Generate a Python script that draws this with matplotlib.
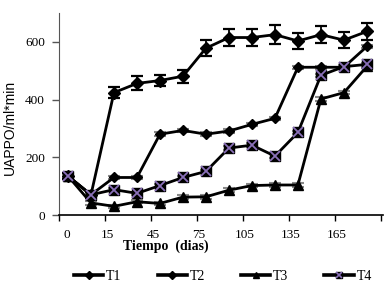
import numpy as np
import matplotlib
matplotlib.use("Agg")
import matplotlib.pyplot as plt
from matplotlib.legend_handler import HandlerTuple

# sampling points (index along category axis)
puntos = np.arange(14)
tick_labels = ["0", "15", "45", "75", "105", "135", "165"]

T1 = [135, 70, 424, 456, 466, 481, 578, 615, 615, 625, 603, 625, 606, 636]
T1_err = [10, 10, 20, 24, 20, 23, 28, 31, 31, 33, 29, 29, 29, 29]
T2 = [135, 70, 130, 130, 280, 293, 280, 291, 314, 335, 512, 512, 512, 584]
T3 = [135, 42, 30, 46, 40, 62, 63, 86, 102, 104, 104, 402, 424, 515]
T4 = [135, 70, 88, 75, 102, 130, 151, 232, 242, 204, 286, 484, 514, 522]
small_err = 6

fig = plt.figure(figsize=(3.92, 2.93), dpi=100)
ax = fig.add_axes([59/392, 1-215/293, (383-59)/392, (215-13)/293])

lw = 2.0
ax.errorbar(puntos, T1, yerr=T1_err, color="black", lw=lw, marker="D", ms=6.5,
            capsize=4.5, capthick=1.6, elinewidth=1.3, zorder=5)
for s in (T2, T3, T4):
    ax.errorbar(puntos, s, yerr=small_err, fmt="none", ecolor="#888888",
                capsize=4, capthick=1.5, elinewidth=1, zorder=2)
h1, = ax.plot([], [], color="black", lw=2.6, marker="D", ms=4)
h2, = ax.plot(puntos, T2, color="black", lw=lw, marker="D", ms=5.5, zorder=4)
h3, = ax.plot(puntos, T3, color="black", lw=lw, marker="^", ms=7, zorder=4)
h4, = ax.plot(puntos, T4, color="black", lw=lw, marker="s", ms=6.5, zorder=4)
h4x, = ax.plot(puntos, T4, color="none", lw=0, marker="x", ms=6.5,
               markeredgecolor="#8a70b8", mew=1.3, zorder=6)
# legend proxies (thicker lines, small markers as in the reference)
l2, = ax.plot([], [], color="black", lw=2.6, marker="D", ms=4)
l3, = ax.plot([], [], color="black", lw=2.6, marker="^", ms=5)
l4, = ax.plot([], [], color="black", lw=2.6, marker="s", ms=5)
l4x, = ax.plot([], [], color="none", lw=0, marker="x", ms=5,
               markeredgecolor="#8a70b8", mew=1.2)

ax.set_xlim(-0.39, 13.7)
ax.set_ylim(0, 700)
ax.set_yticks([0, 200, 400, 600])
ax.set_yticklabels(["0", "200", "400", "600"], family="Liberation Serif", fontsize=9.5)
ax.tick_params(axis="y", direction="out", length=5, pad=5, width=1, color="#555555")

major = [-0.39 + 2 * j for j in range(8)]
ax.set_xticks(major)
ax.set_xticklabels([""] * len(major))
ax.tick_params(axis="x", which="major", direction="out", length=4, width=1)
label_pos = [-0.04] + [m + 0.09 for m in major[1:7]]
ax.set_xticks(label_pos, minor=True)
ax.set_xticklabels(tick_labels, minor=True, family="Liberation Serif", fontsize=9.5)
ax.tick_params(axis="x", which="minor", length=0, pad=10)

for sp in ("top", "right"):
    ax.spines[sp].set_visible(False)
ax.spines["left"].set_color("#555555")
ax.spines["bottom"].set_color("black")
ax.spines["bottom"].set_linewidth(1.2)

fig.text(10/392, 1-127/293, "UAPPO/ml*min", rotation=90, ha="center", va="center",
         family="Liberation Sans", fontsize=10)
fig.text(166/392, 1-246.5/293, "Tiempo  (dias)", ha="center", va="center",
         family="Liberation Serif", fontweight="bold", fontsize=10)

leg = fig.legend([h1, l2, l3, (l4, l4x)], ["T1", "T2", "T3", "T4"],
                 handler_map={tuple: HandlerTuple(ndivide=1, pad=0)},
                 loc="center", bbox_to_anchor=(223/392, 1-276/293), ncol=4,
                 frameon=False, handlelength=2.1, handletextpad=0.2,
                 columnspacing=2.6,
                 prop={"family": "Liberation Serif", "size": 10})

fig.savefig("out.png", dpi=100)
